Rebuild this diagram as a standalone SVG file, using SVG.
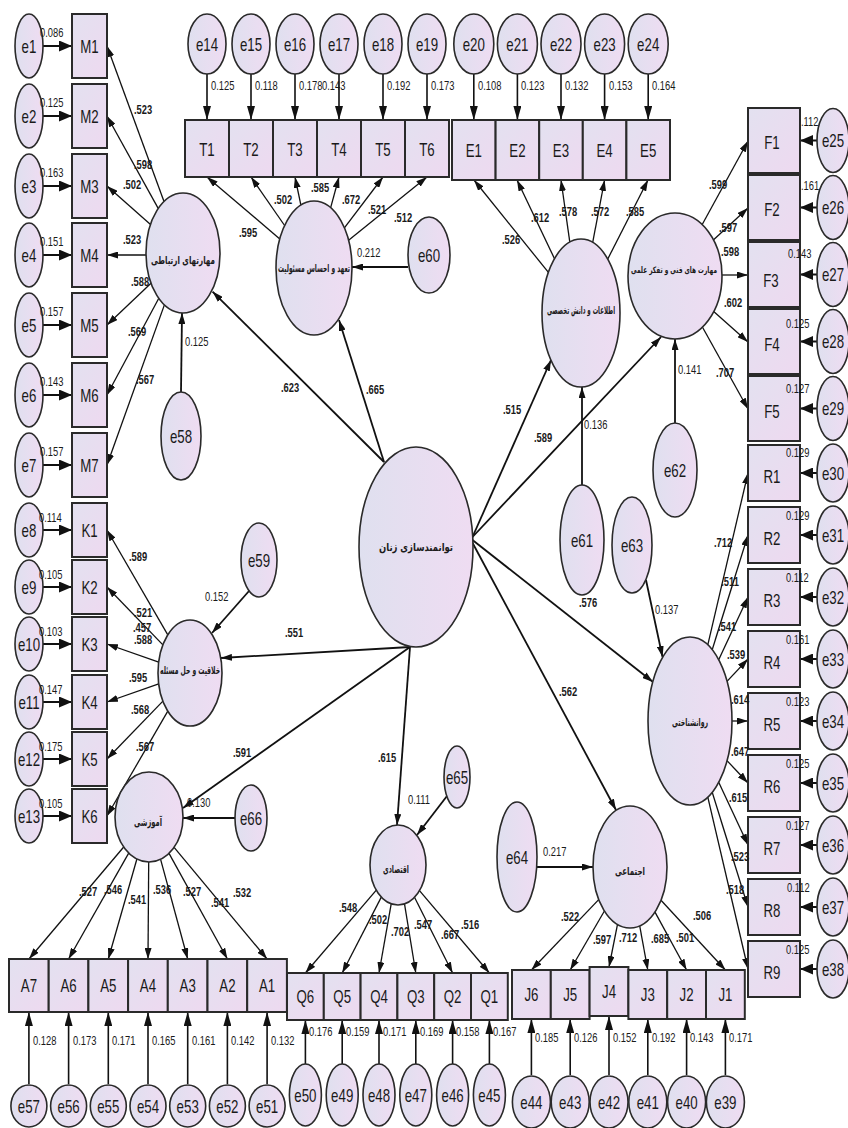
<svg xmlns="http://www.w3.org/2000/svg" width="848" height="1128" viewBox="0 0 848 1128">
<defs>
<linearGradient id="ge" x1="0" y1="0" x2="1" y2="0"><stop offset="0" stop-color="#dfe0ef"/><stop offset="1" stop-color="#efdcf2"/></linearGradient>
<linearGradient id="gb" x1="0" y1="0" x2="1" y2="1"><stop offset="0" stop-color="#e3e1f0"/><stop offset="1" stop-color="#eed9f0"/></linearGradient>
<marker id="a" markerWidth="11" markerHeight="7" refX="11" refY="3.5" orient="auto" markerUnits="userSpaceOnUse"><path d="M0,0L11,3.5L0,7z" fill="#111"/></marker>
<marker id="b" markerWidth="13" markerHeight="11" refX="13" refY="5.5" orient="auto" markerUnits="userSpaceOnUse"><path d="M0,0L13,5.5L0,11z" fill="#111"/></marker>
<marker id="c" markerWidth="14" markerHeight="8" refX="14" refY="4" orient="auto" markerUnits="userSpaceOnUse"><path d="M0,0L14,4L0,8z" fill="#111"/></marker>
<style>
.n rect{fill:url(#gb);stroke:#2a2a2a;stroke-width:2}
.n ellipse{fill:url(#ge);stroke:#2a2a2a;stroke-width:1.6}
text{font-family:"Liberation Sans",Arial,sans-serif;fill:#1a1a1a}
.t{font-size:19px;text-anchor:middle;dominant-baseline:central;transform-box:fill-box;transform-origin:center;transform:scaleX(0.7)}
.fa{font-family:"DejaVu Sans",sans-serif;font-size:11px;font-weight:bold;text-anchor:middle;dominant-baseline:central}
.l{font-size:13px;font-weight:bold;text-anchor:middle;transform-box:fill-box;transform-origin:center;transform:scaleX(0.72)}
.v{font-size:12.5px;transform-box:fill-box;transform-origin:left center;transform:scaleX(0.75)}
#connectors line{stroke:#111;fill:none}
.s{stroke-width:1.3;marker-end:url(#a)}
.p{stroke-width:1.8;marker-end:url(#a)}
.e{stroke-width:2;marker-end:url(#b)}
.d{stroke-width:1.6;marker-end:url(#c)}
</style>
</defs>
<rect width="848" height="1128" fill="#fff"/>

<g id="connectors">
<line class="e" x1="43" y1="46" x2="72" y2="46"/>
<line class="e" x1="43" y1="116" x2="72" y2="116"/>
<line class="e" x1="43" y1="186" x2="72" y2="186"/>
<line class="e" x1="43" y1="255" x2="72" y2="255"/>
<line class="e" x1="43" y1="325" x2="72" y2="325"/>
<line class="e" x1="43" y1="395" x2="72" y2="395"/>
<line class="e" x1="43" y1="465" x2="72" y2="465"/>
<line class="e" x1="43" y1="530" x2="72" y2="530"/>
<line class="e" x1="43" y1="587" x2="72" y2="587"/>
<line class="e" x1="43" y1="644" x2="72" y2="644"/>
<line class="e" x1="43" y1="702" x2="72" y2="702"/>
<line class="e" x1="43" y1="759" x2="72" y2="759"/>
<line class="e" x1="43" y1="816" x2="72" y2="816"/>
<line class="d" x1="207" y1="74" x2="207" y2="120"/>
<line class="d" x1="251" y1="74" x2="251" y2="120"/>
<line class="d" x1="295" y1="74" x2="295" y2="120"/>
<line class="d" x1="339" y1="74" x2="339" y2="120"/>
<line class="d" x1="383" y1="74" x2="383" y2="120"/>
<line class="d" x1="427" y1="74" x2="427" y2="120"/>
<line class="d" x1="473.8" y1="74" x2="473.8" y2="120"/>
<line class="d" x1="517.4" y1="74" x2="517.4" y2="120"/>
<line class="d" x1="561" y1="74" x2="561" y2="120"/>
<line class="d" x1="604.6" y1="74" x2="604.6" y2="120"/>
<line class="d" x1="648.2" y1="74" x2="648.2" y2="120"/>
<line class="e" x1="817" y1="140.5" x2="800" y2="140.5"/>
<line class="e" x1="817" y1="207.5" x2="800" y2="207.5"/>
<line class="e" x1="817" y1="274.5" x2="800" y2="274.5"/>
<line class="e" x1="817" y1="341.5" x2="800" y2="341.5"/>
<line class="e" x1="817" y1="408.5" x2="800" y2="408.5"/>
<line class="e" x1="817" y1="473" x2="800" y2="473"/>
<line class="e" x1="817" y1="535" x2="800" y2="535"/>
<line class="e" x1="817" y1="597" x2="800" y2="597"/>
<line class="e" x1="817" y1="659" x2="800" y2="659"/>
<line class="e" x1="817" y1="721" x2="800" y2="721"/>
<line class="e" x1="817" y1="783" x2="800" y2="783"/>
<line class="e" x1="817" y1="845" x2="800" y2="845"/>
<line class="e" x1="817" y1="907" x2="800" y2="907"/>
<line class="e" x1="817" y1="969" x2="800" y2="969"/>
<line class="d" x1="28.9" y1="1084" x2="28.9" y2="1012"/>
<line class="d" x1="68.6" y1="1084" x2="68.6" y2="1012"/>
<line class="d" x1="108.3" y1="1084" x2="108.3" y2="1012"/>
<line class="d" x1="148" y1="1084" x2="148" y2="1012"/>
<line class="d" x1="187.7" y1="1084" x2="187.7" y2="1012"/>
<line class="d" x1="227.4" y1="1084" x2="227.4" y2="1012"/>
<line class="d" x1="267.1" y1="1084" x2="267.1" y2="1012"/>
<line class="d" x1="305.4" y1="1064" x2="305.4" y2="1020"/>
<line class="d" x1="342.2" y1="1064" x2="342.2" y2="1020"/>
<line class="d" x1="379" y1="1064" x2="379" y2="1020"/>
<line class="d" x1="415.8" y1="1064" x2="415.8" y2="1020"/>
<line class="d" x1="452.6" y1="1064" x2="452.6" y2="1020"/>
<line class="d" x1="489.4" y1="1064" x2="489.4" y2="1020"/>
<line class="d" x1="531.4" y1="1075" x2="531.4" y2="1019"/>
<line class="d" x1="570.2" y1="1075" x2="570.2" y2="1019"/>
<line class="d" x1="609" y1="1075" x2="609" y2="1016"/>
<line class="d" x1="647.8" y1="1075" x2="647.8" y2="1019"/>
<line class="d" x1="686.6" y1="1075" x2="686.6" y2="1019"/>
<line class="d" x1="725.4" y1="1075" x2="725.4" y2="1019"/>
<line class="s" x1="164" y1="201.5" x2="107" y2="46"/>
<line class="s" x1="158.2" y1="208.4" x2="107" y2="116"/>
<line class="s" x1="150.5" y1="224.4" x2="107" y2="186"/>
<line class="s" x1="146" y1="255" x2="107" y2="255"/>
<line class="s" x1="151" y1="283.3" x2="107" y2="325"/>
<line class="s" x1="158.8" y1="298.3" x2="107" y2="395"/>
<line class="s" x1="164.4" y1="304.9" x2="107" y2="465"/>
<line class="s" x1="279.8" y1="238.9" x2="207" y2="177"/>
<line class="s" x1="284.6" y1="225.5" x2="251" y2="177"/>
<line class="s" x1="300.9" y1="205.1" x2="295" y2="177"/>
<line class="s" x1="330.6" y1="207.8" x2="339" y2="177"/>
<line class="s" x1="344.4" y1="227.9" x2="383" y2="177"/>
<line class="s" x1="348.6" y1="240.2" x2="427" y2="177"/>
<line class="s" x1="548.4" y1="272.4" x2="474" y2="180"/>
<line class="s" x1="554.5" y1="258.7" x2="517" y2="180"/>
<line class="s" x1="569.8" y1="242.1" x2="561" y2="180"/>
<line class="s" x1="592.7" y1="242.4" x2="604.6" y2="180"/>
<line class="s" x1="607.7" y1="259.1" x2="648" y2="180"/>
<line class="s" x1="701.8" y1="225.2" x2="748" y2="141"/>
<line class="s" x1="712.8" y1="240.4" x2="748" y2="208"/>
<line class="s" x1="722" y1="275" x2="748" y2="275"/>
<line class="s" x1="713.1" y1="310.9" x2="748" y2="342"/>
<line class="s" x1="702.1" y1="326.5" x2="748" y2="409"/>
<line class="s" x1="707.8" y1="644.9" x2="748" y2="473"/>
<line class="s" x1="712.2" y1="649.7" x2="748" y2="535"/>
<line class="s" x1="718.7" y1="659.8" x2="748" y2="597"/>
<line class="s" x1="727" y1="681.4" x2="748" y2="659"/>
<line class="s" x1="732" y1="721" x2="748" y2="721"/>
<line class="s" x1="727" y1="760.6" x2="748" y2="783"/>
<line class="s" x1="718.7" y1="782.2" x2="748" y2="845"/>
<line class="s" x1="712.2" y1="792.3" x2="748" y2="907"/>
<line class="s" x1="707.8" y1="797.1" x2="748" y2="969"/>
<line class="s" x1="167.8" y1="634.8" x2="107" y2="530"/>
<line class="s" x1="162.9" y1="644.9" x2="107" y2="587"/>
<line class="s" x1="158.7" y1="662.1" x2="107" y2="644"/>
<line class="s" x1="158.7" y1="683.9" x2="107" y2="702"/>
<line class="s" x1="162.9" y1="701.1" x2="107" y2="759"/>
<line class="s" x1="167.8" y1="711.2" x2="107" y2="816"/>
<line class="s" x1="123.7" y1="847" x2="29" y2="959"/>
<line class="s" x1="128.7" y1="853.1" x2="68.6" y2="959"/>
<line class="s" x1="136.9" y1="859" x2="108.3" y2="959"/>
<line class="s" x1="148.7" y1="862" x2="148" y2="959"/>
<line class="s" x1="160.6" y1="859.3" x2="187.7" y2="959"/>
<line class="s" x1="169" y1="853.4" x2="227.4" y2="959"/>
<line class="s" x1="174.1" y1="847.3" x2="267.1" y2="959"/>
<line class="s" x1="376.3" y1="890.2" x2="305.4" y2="973"/>
<line class="s" x1="381.3" y1="897.1" x2="342.2" y2="973"/>
<line class="s" x1="391.2" y1="903.8" x2="379" y2="973"/>
<line class="s" x1="404.5" y1="903.9" x2="415.8" y2="973"/>
<line class="s" x1="414.5" y1="897.3" x2="452.6" y2="973"/>
<line class="s" x1="419.5" y1="890.6" x2="489.4" y2="973"/>
<line class="s" x1="598.7" y1="899.6" x2="531.4" y2="970"/>
<line class="s" x1="604.4" y1="911" x2="570.2" y2="970"/>
<line class="s" x1="617.5" y1="924.4" x2="609" y2="967"/>
<line class="s" x1="639.7" y1="925.9" x2="647.8" y2="970"/>
<line class="s" x1="655" y1="912.1" x2="686.6" y2="970"/>
<line class="s" x1="661" y1="900.3" x2="725.4" y2="970"/>
<line class="p" x1="384" y1="462" x2="212.5" y2="291.6"/>
<line class="p" x1="384" y1="462" x2="339" y2="320"/>
<line class="p" x1="472.5" y1="537" x2="551" y2="360"/>
<line class="p" x1="472.5" y1="537" x2="661" y2="337"/>
<line class="p" x1="472.5" y1="540" x2="653" y2="682"/>
<line class="p" x1="471" y1="540" x2="616" y2="810"/>
<line class="p" x1="410" y1="647" x2="221" y2="658"/>
<line class="p" x1="410" y1="647" x2="183" y2="808"/>
<line class="p" x1="410" y1="647" x2="397" y2="825"/>
<line class="p" x1="181" y1="392" x2="182" y2="313"/>
<line class="p" x1="249" y1="591" x2="212" y2="633"/>
<line class="p" x1="408" y1="267" x2="352" y2="267"/>
<line class="p" x1="582" y1="485" x2="582" y2="387"/>
<line class="p" x1="675" y1="423" x2="675" y2="339"/>
<line class="p" x1="646" y1="580" x2="662.5" y2="657"/>
<line class="p" x1="537" y1="867" x2="593" y2="867"/>
<line class="p" x1="447" y1="796" x2="417" y2="835"/>
<line class="p" x1="235" y1="818" x2="183" y2="818"/>
</g>

<g id="e1" class="n"><ellipse cx="29" cy="46" rx="14" ry="32"/><text class="t" x="29" y="46">e1</text></g>
<g id="e2" class="n"><ellipse cx="29" cy="116" rx="14" ry="32"/><text class="t" x="29" y="116">e2</text></g>
<g id="e3" class="n"><ellipse cx="29" cy="186" rx="14" ry="32"/><text class="t" x="29" y="186">e3</text></g>
<g id="e4" class="n"><ellipse cx="29" cy="255" rx="14" ry="32"/><text class="t" x="29" y="255">e4</text></g>
<g id="e5" class="n"><ellipse cx="29" cy="325" rx="14" ry="32"/><text class="t" x="29" y="325">e5</text></g>
<g id="e6" class="n"><ellipse cx="29" cy="395" rx="14" ry="32"/><text class="t" x="29" y="395">e6</text></g>
<g id="e7" class="n"><ellipse cx="29" cy="465" rx="14" ry="32"/><text class="t" x="29" y="465">e7</text></g>
<g id="e8" class="n"><ellipse cx="29" cy="530" rx="14" ry="27"/><text class="t" x="29" y="530">e8</text></g>
<g id="e9" class="n"><ellipse cx="29" cy="587" rx="14" ry="27"/><text class="t" x="29" y="587">e9</text></g>
<g id="e10" class="n"><ellipse cx="29" cy="644" rx="14" ry="27"/><text class="t" x="29" y="644">e10</text></g>
<g id="e11" class="n"><ellipse cx="29" cy="702" rx="14" ry="27"/><text class="t" x="29" y="702">e11</text></g>
<g id="e12" class="n"><ellipse cx="29" cy="759" rx="14" ry="27"/><text class="t" x="29" y="759">e12</text></g>
<g id="e13" class="n"><ellipse cx="29" cy="816" rx="14" ry="27"/><text class="t" x="29" y="816">e13</text></g>

<g id="M1" class="n"><rect x="72" y="14" width="35" height="64"/><text class="t" x="89.5" y="46">M1</text></g>
<g id="M2" class="n"><rect x="72" y="84" width="35" height="64"/><text class="t" x="89.5" y="116">M2</text></g>
<g id="M3" class="n"><rect x="72" y="154" width="35" height="64"/><text class="t" x="89.5" y="186">M3</text></g>
<g id="M4" class="n"><rect x="72" y="223" width="35" height="64"/><text class="t" x="89.5" y="255">M4</text></g>
<g id="M5" class="n"><rect x="72" y="293" width="35" height="64"/><text class="t" x="89.5" y="325">M5</text></g>
<g id="M6" class="n"><rect x="72" y="363" width="35" height="64"/><text class="t" x="89.5" y="395">M6</text></g>
<g id="M7" class="n"><rect x="72" y="433" width="35" height="64"/><text class="t" x="89.5" y="465">M7</text></g>
<g id="K1" class="n"><rect x="72" y="503" width="35" height="54"/><text class="t" x="89.5" y="530">K1</text></g>
<g id="K2" class="n"><rect x="72" y="560" width="35" height="54"/><text class="t" x="89.5" y="587">K2</text></g>
<g id="K3" class="n"><rect x="72" y="617" width="35" height="54"/><text class="t" x="89.5" y="644">K3</text></g>
<g id="K4" class="n"><rect x="72" y="675" width="35" height="54"/><text class="t" x="89.5" y="702">K4</text></g>
<g id="K5" class="n"><rect x="72" y="732" width="35" height="54"/><text class="t" x="89.5" y="759">K5</text></g>
<g id="K6" class="n"><rect x="72" y="789" width="35" height="54"/><text class="t" x="89.5" y="816">K6</text></g>

<g id="e14" class="n"><ellipse cx="207" cy="44" rx="19" ry="30"/><text class="t" x="207" y="44">e14</text></g>
<g id="e15" class="n"><ellipse cx="251" cy="44" rx="19" ry="30"/><text class="t" x="251" y="44">e15</text></g>
<g id="e16" class="n"><ellipse cx="295" cy="44" rx="19" ry="30"/><text class="t" x="295" y="44">e16</text></g>
<g id="e17" class="n"><ellipse cx="339" cy="44" rx="19" ry="30"/><text class="t" x="339" y="44">e17</text></g>
<g id="e18" class="n"><ellipse cx="383" cy="44" rx="19" ry="30"/><text class="t" x="383" y="44">e18</text></g>
<g id="e19" class="n"><ellipse cx="427" cy="44" rx="19" ry="30"/><text class="t" x="427" y="44">e19</text></g>
<g id="e20" class="n"><ellipse cx="473.8" cy="44" rx="20" ry="30"/><text class="t" x="473.8" y="44">e20</text></g>
<g id="e21" class="n"><ellipse cx="517.4" cy="44" rx="20" ry="30"/><text class="t" x="517.4" y="44">e21</text></g>
<g id="e22" class="n"><ellipse cx="561" cy="44" rx="20" ry="30"/><text class="t" x="561" y="44">e22</text></g>
<g id="e23" class="n"><ellipse cx="604.6" cy="44" rx="20" ry="30"/><text class="t" x="604.6" y="44">e23</text></g>
<g id="e24" class="n"><ellipse cx="648.2" cy="44" rx="20" ry="30"/><text class="t" x="648.2" y="44">e24</text></g>

<g id="T1" class="n"><rect x="185" y="120" width="44" height="57"/><text class="t" x="207" y="149">T1</text></g>
<g id="T2" class="n"><rect x="229" y="120" width="44" height="57"/><text class="t" x="251" y="149">T2</text></g>
<g id="T3" class="n"><rect x="273" y="120" width="44" height="57"/><text class="t" x="295" y="149">T3</text></g>
<g id="T4" class="n"><rect x="317" y="120" width="44" height="57"/><text class="t" x="339" y="149">T4</text></g>
<g id="T5" class="n"><rect x="361" y="120" width="44" height="57"/><text class="t" x="383" y="149">T5</text></g>
<g id="T6" class="n"><rect x="405" y="120" width="44" height="57"/><text class="t" x="427" y="149">T6</text></g>
<g id="E1" class="n"><rect x="452" y="120" width="43.6" height="60"/><text class="t" x="473.8" y="150">E1</text></g>
<g id="E2" class="n"><rect x="495.6" y="120" width="43.6" height="60"/><text class="t" x="517.4" y="150">E2</text></g>
<g id="E3" class="n"><rect x="539.2" y="120" width="43.6" height="60"/><text class="t" x="561" y="150">E3</text></g>
<g id="E4" class="n"><rect x="582.8" y="120" width="43.6" height="60"/><text class="t" x="604.6" y="150">E4</text></g>
<g id="E5" class="n"><rect x="626.4" y="120" width="43.6" height="60"/><text class="t" x="648.2" y="150">E5</text></g>

<g id="F1" class="n"><rect x="748" y="108" width="52" height="65"/><text class="t" x="772" y="142">F1</text></g>
<g id="F2" class="n"><rect x="748" y="175" width="52" height="65"/><text class="t" x="772" y="209">F2</text></g>
<g id="F3" class="n"><rect x="748" y="242" width="52" height="65"/><text class="t" x="771" y="280">F3</text></g>
<g id="F4" class="n"><rect x="748" y="309" width="52" height="65"/><text class="t" x="772" y="344">F4</text></g>
<g id="F5" class="n"><rect x="748" y="376" width="52" height="65"/><text class="t" x="772" y="411">F5</text></g>
<g id="R1" class="n"><rect x="748" y="445" width="52" height="56"/><text class="t" x="772" y="476">R1</text></g>
<g id="R2" class="n"><rect x="748" y="507" width="52" height="56"/><text class="t" x="772" y="538">R2</text></g>
<g id="R3" class="n"><rect x="748" y="569" width="52" height="56"/><text class="t" x="772" y="600">R3</text></g>
<g id="R4" class="n"><rect x="748" y="631" width="52" height="56"/><text class="t" x="772" y="662">R4</text></g>
<g id="R5" class="n"><rect x="748" y="693" width="52" height="56"/><text class="t" x="772" y="724">R5</text></g>
<g id="R6" class="n"><rect x="748" y="755" width="52" height="56"/><text class="t" x="772" y="786">R6</text></g>
<g id="R7" class="n"><rect x="748" y="817" width="52" height="56"/><text class="t" x="772" y="848">R7</text></g>
<g id="R8" class="n"><rect x="748" y="879" width="52" height="56"/><text class="t" x="772" y="910">R8</text></g>
<g id="R9" class="n"><rect x="748" y="941" width="52" height="56"/><text class="t" x="772" y="972">R9</text></g>

<g id="e25" class="n"><ellipse cx="833" cy="140.5" rx="16" ry="32"/><text class="t" x="833" y="140.5">e25</text></g>
<g id="e26" class="n"><ellipse cx="833" cy="207.5" rx="16" ry="32"/><text class="t" x="833" y="207.5">e26</text></g>
<g id="e27" class="n"><ellipse cx="833" cy="274.5" rx="16" ry="32"/><text class="t" x="833" y="274.5">e27</text></g>
<g id="e28" class="n"><ellipse cx="833" cy="341.5" rx="16" ry="32"/><text class="t" x="833" y="341.5">e28</text></g>
<g id="e29" class="n"><ellipse cx="833" cy="408.5" rx="16" ry="32"/><text class="t" x="833" y="408.5">e29</text></g>
<g id="e30" class="n"><ellipse cx="833" cy="473" rx="16" ry="29"/><text class="t" x="833" y="473">e30</text></g>
<g id="e31" class="n"><ellipse cx="833" cy="535" rx="16" ry="29"/><text class="t" x="833" y="535">e31</text></g>
<g id="e32" class="n"><ellipse cx="833" cy="597" rx="16" ry="29"/><text class="t" x="833" y="597">e32</text></g>
<g id="e33" class="n"><ellipse cx="833" cy="659" rx="16" ry="29"/><text class="t" x="833" y="659">e33</text></g>
<g id="e34" class="n"><ellipse cx="833" cy="721" rx="16" ry="29"/><text class="t" x="833" y="721">e34</text></g>
<g id="e35" class="n"><ellipse cx="833" cy="783" rx="16" ry="29"/><text class="t" x="833" y="783">e35</text></g>
<g id="e36" class="n"><ellipse cx="833" cy="845" rx="16" ry="29"/><text class="t" x="833" y="845">e36</text></g>
<g id="e37" class="n"><ellipse cx="833" cy="907" rx="16" ry="29"/><text class="t" x="833" y="907">e37</text></g>
<g id="e38" class="n"><ellipse cx="833" cy="969" rx="16" ry="29"/><text class="t" x="833" y="969">e38</text></g>

<g id="A7" class="n"><rect x="9" y="959" width="39.7" height="53"/><text class="t" x="28.9" y="985.5">A7</text></g>
<g id="A6" class="n"><rect x="48.7" y="959" width="39.7" height="53"/><text class="t" x="68.6" y="985.5">A6</text></g>
<g id="A5" class="n"><rect x="88.4" y="959" width="39.7" height="53"/><text class="t" x="108.3" y="985.5">A5</text></g>
<g id="A4" class="n"><rect x="128.1" y="959" width="39.7" height="53"/><text class="t" x="148" y="985.5">A4</text></g>
<g id="A3" class="n"><rect x="167.8" y="959" width="39.7" height="53"/><text class="t" x="187.7" y="985.5">A3</text></g>
<g id="A2" class="n"><rect x="207.5" y="959" width="39.7" height="53"/><text class="t" x="227.4" y="985.5">A2</text></g>
<g id="A1" class="n"><rect x="247.2" y="959" width="39.7" height="53"/><text class="t" x="267.1" y="985.5">A1</text></g>
<g id="Q6" class="n"><rect x="287" y="973" width="36.8" height="47"/><text class="t" x="305.4" y="996.5">Q6</text></g>
<g id="Q5" class="n"><rect x="323.8" y="973" width="36.8" height="47"/><text class="t" x="342.2" y="996.5">Q5</text></g>
<g id="Q4" class="n"><rect x="360.6" y="973" width="36.8" height="47"/><text class="t" x="379" y="996.5">Q4</text></g>
<g id="Q3" class="n"><rect x="397.4" y="973" width="36.8" height="47"/><text class="t" x="415.8" y="996.5">Q3</text></g>
<g id="Q2" class="n"><rect x="434.2" y="973" width="36.8" height="47"/><text class="t" x="452.6" y="996.5">Q2</text></g>
<g id="Q1" class="n"><rect x="471" y="973" width="36.8" height="47"/><text class="t" x="489.4" y="996.5">Q1</text></g>
<g id="J6" class="n"><rect x="512" y="970" width="38.8" height="49"/><text class="t" x="531.4" y="994.5">J6</text></g>
<g id="J5" class="n"><rect x="550.8" y="970" width="38.8" height="49"/><text class="t" x="570.2" y="994.5">J5</text></g>
<g id="J4" class="n"><rect x="589.6" y="967" width="38.8" height="49"/><text class="t" x="609" y="991.5">J4</text></g>
<g id="J3" class="n"><rect x="628.4" y="970" width="38.8" height="49"/><text class="t" x="647.8" y="994.5">J3</text></g>
<g id="J2" class="n"><rect x="667.2" y="970" width="38.8" height="49"/><text class="t" x="686.6" y="994.5">J2</text></g>
<g id="J1" class="n"><rect x="706" y="970" width="38.8" height="49"/><text class="t" x="725.4" y="994.5">J1</text></g>

<g id="e57" class="n"><ellipse cx="28.9" cy="1106" rx="18" ry="21"/><text class="t" x="28.9" y="1106">e57</text></g>
<g id="e56" class="n"><ellipse cx="68.6" cy="1106" rx="18" ry="21"/><text class="t" x="68.6" y="1106">e56</text></g>
<g id="e55" class="n"><ellipse cx="108.3" cy="1106" rx="18" ry="21"/><text class="t" x="108.3" y="1106">e55</text></g>
<g id="e54" class="n"><ellipse cx="148" cy="1106" rx="18" ry="21"/><text class="t" x="148" y="1106">e54</text></g>
<g id="e53" class="n"><ellipse cx="187.7" cy="1106" rx="18" ry="21"/><text class="t" x="187.7" y="1106">e53</text></g>
<g id="e52" class="n"><ellipse cx="227.4" cy="1106" rx="18" ry="21"/><text class="t" x="227.4" y="1106">e52</text></g>
<g id="e51" class="n"><ellipse cx="267.1" cy="1106" rx="18" ry="21"/><text class="t" x="267.1" y="1106">e51</text></g>
<g id="e50" class="n"><ellipse cx="305.4" cy="1095" rx="16" ry="31"/><text class="t" x="305.4" y="1095">e50</text></g>
<g id="e49" class="n"><ellipse cx="342.2" cy="1095" rx="16" ry="31"/><text class="t" x="342.2" y="1095">e49</text></g>
<g id="e48" class="n"><ellipse cx="379" cy="1095" rx="16" ry="31"/><text class="t" x="379" y="1095">e48</text></g>
<g id="e47" class="n"><ellipse cx="415.8" cy="1095" rx="16" ry="31"/><text class="t" x="415.8" y="1095">e47</text></g>
<g id="e46" class="n"><ellipse cx="452.6" cy="1095" rx="16" ry="31"/><text class="t" x="452.6" y="1095">e46</text></g>
<g id="e45" class="n"><ellipse cx="489.4" cy="1095" rx="16" ry="31"/><text class="t" x="489.4" y="1095">e45</text></g>
<g id="e44" class="n"><ellipse cx="531.4" cy="1102" rx="19" ry="26"/><text class="t" x="531.4" y="1102">e44</text></g>
<g id="e43" class="n"><ellipse cx="570.2" cy="1102" rx="19" ry="26"/><text class="t" x="570.2" y="1102">e43</text></g>
<g id="e42" class="n"><ellipse cx="609" cy="1102" rx="19" ry="26"/><text class="t" x="609" y="1102">e42</text></g>
<g id="e41" class="n"><ellipse cx="647.8" cy="1102" rx="19" ry="26"/><text class="t" x="647.8" y="1102">e41</text></g>
<g id="e40" class="n"><ellipse cx="686.6" cy="1102" rx="19" ry="26"/><text class="t" x="686.6" y="1102">e40</text></g>
<g id="e39" class="n"><ellipse cx="725.4" cy="1102" rx="19" ry="26"/><text class="t" x="725.4" y="1102">e39</text></g>

<g id="L_M" class="n"><ellipse cx="183" cy="253" rx="37" ry="60"/><text class="fa" x="183" y="260" textLength="64" lengthAdjust="spacingAndGlyphs">مهارتهای ارتباطی</text></g>
<g id="L_T" class="n"><ellipse cx="314" cy="268" rx="38" ry="67"/><text class="fa" x="314" y="268" textLength="72" lengthAdjust="spacingAndGlyphs">تعهد و احساس مسئولیت</text></g>
<g id="L_E" class="n"><ellipse cx="581" cy="313" rx="39" ry="74"/><text class="fa" x="581" y="310" textLength="68" lengthAdjust="spacingAndGlyphs">اطلاعات و دانش تخصصی</text></g>
<g id="L_F" class="n"><ellipse cx="675" cy="276" rx="47" ry="63"/><text class="fa" style="font-size:9px" x="674" y="270" textLength="86" lengthAdjust="spacingAndGlyphs">مهارت های فنی و تفکر علمی</text></g>
<g id="L_C" class="n"><ellipse cx="416" cy="547" rx="57" ry="100"/><text class="fa" x="416" y="547" textLength="74" lengthAdjust="spacingAndGlyphs">توانمندسازی زنان</text></g>
<g id="L_K" class="n"><ellipse cx="190" cy="673" rx="32" ry="53"/><text class="fa" x="190" y="670" textLength="60" lengthAdjust="spacingAndGlyphs">خلاقیت و حل مسئله</text></g>
<g id="L_A" class="n"><ellipse cx="149" cy="817" rx="34" ry="45"/><text class="fa" x="148" y="822" textLength="28" lengthAdjust="spacingAndGlyphs">آموزشی</text></g>
<g id="L_Q" class="n"><ellipse cx="398" cy="865" rx="28" ry="40"/><text class="fa" x="396" y="869" textLength="26" lengthAdjust="spacingAndGlyphs">اقتصادی</text></g>
<g id="L_J" class="n"><ellipse cx="630" cy="867" rx="37" ry="61"/><text class="fa" x="630" y="871" textLength="30" lengthAdjust="spacingAndGlyphs">اجتماعی</text></g>
<g id="L_R" class="n"><ellipse cx="690" cy="721" rx="42" ry="84"/><text class="fa" x="690" y="722" textLength="36" lengthAdjust="spacingAndGlyphs">روانشناختی</text></g>

<g id="e58" class="n"><ellipse cx="181" cy="436" rx="20" ry="44"/><text class="t" x="181" y="436">e58</text></g>
<g id="e59" class="n"><ellipse cx="259" cy="560" rx="18" ry="37"/><text class="t" x="259" y="560">e59</text></g>
<g id="e60" class="n"><ellipse cx="429" cy="255" rx="21" ry="38"/><text class="t" x="429" y="255">e60</text></g>
<g id="e61" class="n"><ellipse cx="582" cy="540" rx="22" ry="55"/><text class="t" x="582" y="540">e61</text></g>
<g id="e62" class="n"><ellipse cx="675" cy="470" rx="22" ry="47"/><text class="t" x="675" y="470">e62</text></g>
<g id="e63" class="n"><ellipse cx="632" cy="545" rx="20" ry="48"/><text class="t" x="632" y="545">e63</text></g>
<g id="e64" class="n"><ellipse cx="517" cy="857" rx="20" ry="55"/><text class="t" x="517" y="857">e64</text></g>
<g id="e65" class="n"><ellipse cx="457" cy="777" rx="13" ry="31"/><text class="t" x="457" y="777">e65</text></g>
<g id="e66" class="n"><ellipse cx="251" cy="818" rx="16" ry="33"/><text class="t" x="251" y="818">e66</text></g>

<g id="labels">
<text class="l" x="143" y="114">.523</text>
<text class="l" x="143" y="169">.598</text>
<text class="l" x="132" y="189">.502</text>
<text class="l" x="132" y="244">.523</text>
<text class="l" x="140" y="286">.588</text>
<text class="l" x="137" y="336">.569</text>
<text class="l" x="145" y="384">.567</text>
<text class="l" x="248" y="237">.595</text>
<text class="l" x="283" y="204">.502</text>
<text class="l" x="320" y="192">.585</text>
<text class="l" x="351" y="204">.672</text>
<text class="l" x="377" y="214">.521</text>
<text class="l" x="403" y="222">.512</text>
<text class="l" x="511" y="244">.526</text>
<text class="l" x="540" y="222">.612</text>
<text class="l" x="568" y="216">.578</text>
<text class="l" x="600" y="216">.572</text>
<text class="l" x="635" y="216">.585</text>
<text class="l" x="718" y="189">.599</text>
<text class="l" x="728" y="232">.597</text>
<text class="l" x="730" y="256">.598</text>
<text class="l" x="733" y="307">.602</text>
<text class="l" x="725" y="377">.707</text>
<text class="l" x="723" y="547">.712</text>
<text class="l" x="730" y="586">.511</text>
<text class="l" x="727" y="631">.541</text>
<text class="l" x="736" y="659">.539</text>
<text class="l" x="740" y="704">.614</text>
<text class="l" x="740" y="756">.647</text>
<text class="l" x="738" y="802">.615</text>
<text class="l" x="740" y="861">.523</text>
<text class="l" x="735" y="894">.518</text>
<text class="l" x="138" y="561">.589</text>
<text class="l" x="143" y="617">.521</text>
<text class="l" x="142" y="632">.457</text>
<text class="l" x="143" y="644">.588</text>
<text class="l" x="138" y="682">.595</text>
<text class="l" x="140" y="714">.568</text>
<text class="l" x="145" y="751">.567</text>
<text class="l" x="88" y="896">.527</text>
<text class="l" x="113" y="894">.546</text>
<text class="l" x="137" y="904">.541</text>
<text class="l" x="162" y="894">.536</text>
<text class="l" x="192" y="896">.527</text>
<text class="l" x="220" y="907">.541</text>
<text class="l" x="242" y="897">.532</text>
<text class="l" x="348" y="912">.548</text>
<text class="l" x="378" y="924">.502</text>
<text class="l" x="400" y="936">.702</text>
<text class="l" x="423" y="929">.547</text>
<text class="l" x="450" y="939">.667</text>
<text class="l" x="470" y="929">.516</text>
<text class="l" x="570" y="921">.522</text>
<text class="l" x="602" y="944">.597</text>
<text class="l" x="628" y="942">.712</text>
<text class="l" x="660" y="943">.685</text>
<text class="l" x="685" y="942">.501</text>
<text class="l" x="702" y="920">.506</text>
<text class="l" x="290" y="392">.623</text>
<text class="l" x="375" y="394">.665</text>
<text class="l" x="512" y="414">.515</text>
<text class="l" x="543" y="442">.589</text>
<text class="l" x="588" y="607">.576</text>
<text class="l" x="568" y="696">.562</text>
<text class="l" x="294" y="637">.551</text>
<text class="l" x="242" y="757">.591</text>
<text class="l" x="387" y="762">.615</text>
<text class="v" x="40" y="37">0.086</text>
<text class="v" x="40" y="107">0.125</text>
<text class="v" x="40" y="177">0.163</text>
<text class="v" x="40" y="246">0.151</text>
<text class="v" x="40" y="316">0.157</text>
<text class="v" x="40" y="386">0.143</text>
<text class="v" x="40" y="456">0.157</text>
<text class="v" x="39" y="522">0.114</text>
<text class="v" x="39" y="579">0.105</text>
<text class="v" x="39" y="636">0.103</text>
<text class="v" x="39" y="694">0.147</text>
<text class="v" x="39" y="751">0.175</text>
<text class="v" x="39" y="808">0.105</text>
<text class="v" x="211" y="90">0.125</text>
<text class="v" x="255" y="90">0.118</text>
<text class="v" x="299" y="90">0.178</text>
<text class="v" x="322" y="90">0.143</text>
<text class="v" x="387" y="90">0.192</text>
<text class="v" x="431" y="90">0.173</text>
<text class="v" x="478" y="90">0.108</text>
<text class="v" x="521" y="90">0.123</text>
<text class="v" x="565" y="90">0.132</text>
<text class="v" x="609" y="90">0.153</text>
<text class="v" x="652" y="90">0.164</text>
<text class="v" x="801" y="126">.112</text>
<text class="v" x="801" y="190">.161</text>
<text class="v" x="788" y="258">0.143</text>
<text class="v" x="786" y="328">0.125</text>
<text class="v" x="786" y="393">0.127</text>
<text class="v" x="786" y="457">0.129</text>
<text class="v" x="786" y="520">0.129</text>
<text class="v" x="786" y="582">0.112</text>
<text class="v" x="786" y="644">0.161</text>
<text class="v" x="786" y="706">0.123</text>
<text class="v" x="786" y="768">0.125</text>
<text class="v" x="786" y="830">0.127</text>
<text class="v" x="787" y="892">0.112</text>
<text class="v" x="786" y="954">0.125</text>
<text class="v" x="33" y="1045">0.128</text>
<text class="v" x="73" y="1045">0.173</text>
<text class="v" x="112" y="1045">0.171</text>
<text class="v" x="152" y="1045">0.165</text>
<text class="v" x="192" y="1045">0.161</text>
<text class="v" x="231" y="1045">0.142</text>
<text class="v" x="271" y="1045">0.132</text>
<text class="v" x="309" y="1036">0.176</text>
<text class="v" x="346" y="1036">0.159</text>
<text class="v" x="383" y="1036">0.171</text>
<text class="v" x="420" y="1036">0.169</text>
<text class="v" x="456" y="1036">0.158</text>
<text class="v" x="493" y="1036">0.167</text>
<text class="v" x="535" y="1042">0.185</text>
<text class="v" x="574" y="1042">0.126</text>
<text class="v" x="613" y="1042">0.152</text>
<text class="v" x="652" y="1042">0.192</text>
<text class="v" x="690" y="1042">0.143</text>
<text class="v" x="729" y="1042">0.171</text>
<text class="v" x="185" y="346">0.125</text>
<text class="v" x="357" y="257">0.212</text>
<text class="v" x="584" y="429">0.136</text>
<text class="v" x="678" y="374">0.141</text>
<text class="v" x="655" y="614">0.137</text>
<text class="v" x="205" y="601">0.152</text>
<text class="v" x="187" y="807">0.130</text>
<text class="v" x="408" y="804">0.111</text>
<text class="v" x="543" y="856">0.217</text>
</g>
</svg>
